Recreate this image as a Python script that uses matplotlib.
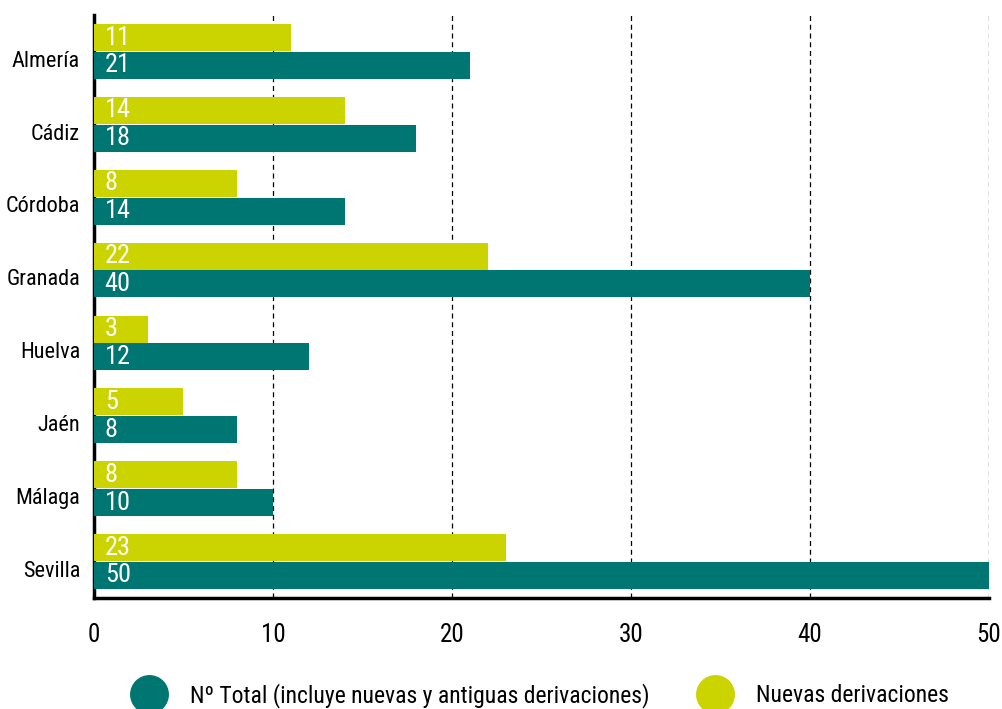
import matplotlib
matplotlib.use("Agg")
import matplotlib.pyplot as plt
from matplotlib import font_manager
from matplotlib.lines import Line2D
import numpy as np

provincias = ['Almería', 'Cádiz', 'Córdoba', 'Granada', 'Huelva', 'Jaén', 'Málaga', 'Sevilla']
total = [21, 18, 14, 40, 12, 8, 10, 50]
nuevas = [11, 14, 8, 22, 3, 5, 8, 23]
xticks = [0, 10, 20, 30, 40, 50]
leyenda = ['Nº Total (incluye nuevas y antiguas derivaciones)', 'Nuevas derivaciones']

teal = '#007672'
yellow = '#cbd400'

# condensed face if there is one, else Roboto
names = {f.name for f in font_manager.fontManager.ttflist}
fam = 'Roboto'
for cand in ['Roboto Condensed', 'Liberation Sans Narrow', 'Archivo Narrow']:
    if cand in names:
        fam = cand
        break
plt.rcParams['font.family'] = [fam, 'DejaVu Sans']

fig = plt.figure(figsize=(10.02, 7.09), dpi=100)
ax = fig.add_axes([0.0938, 0.1566, 0.8932, 0.8222])

y = np.arange(len(provincias))
h = 0.37
ax.barh(y - 0.19, nuevas, height=h, color=yellow, zorder=3)
ax.barh(y + 0.19, total, height=h, color=teal, zorder=3)

for i in range(len(provincias)):
    ax.text(0.6, y[i] - 0.19, str(nuevas[i]), color='white', fontsize=19,
            va='center', ha='left', zorder=4)
    ax.text(0.6, y[i] + 0.19, str(total[i]), color='white', fontsize=19,
            va='center', ha='left', zorder=4)

ax.set_xlim(0, 50)
ax.set_ylim(len(provincias) - 0.5, -0.5)
# labels sit a little below the middle of each pair
ax.set_yticks(y + 0.1)
ax.set_yticklabels(provincias, fontsize=16)
ax.set_xticks(xticks)
ax.set_xticklabels([str(v) for v in xticks], fontsize=18)
ax.tick_params(axis='both', length=0)
ax.tick_params(axis='x', pad=18)
ax.tick_params(axis='y', pad=10)

ax.grid(axis='x', color='black', linestyle=(0, (4, 3)), linewidth=0.9, zorder=0)
ax.grid(axis='y', visible=False)
for s in ['top', 'right']:
    ax.spines[s].set_visible(False)
ax.spines['left'].set_linewidth(2.5)
ax.spines['bottom'].set_linewidth(2.5)

handles = [Line2D([], [], marker='o', linestyle='', markersize=27, color=teal),
           Line2D([], [], marker='o', linestyle='', markersize=27, color=yellow)]
fig.legend(handles, leyenda, loc='center', bbox_to_anchor=(0.536, 0.019),
           ncol=2, frameon=False, fontsize=17, handlelength=2.0,
           handletextpad=0.75, columnspacing=1.75)

fig.savefig('out.png', dpi=100)
